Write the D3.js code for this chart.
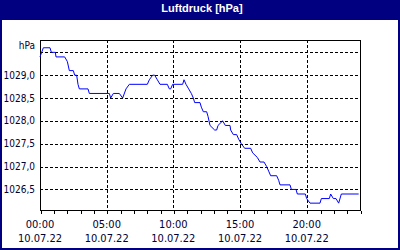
<!DOCTYPE html>
<html>
<head>
<meta charset="utf-8">
<script src="https://cdn.jsdelivr.net/npm/d3@7"></script>
<style>
  body { margin: 0; background: #fff; }
  svg { display: block; }
</style>
</head>
<body>
<script>
// Chart data: air pressure readings on 10.07.22
var title = "Luftdruck [hPa]";
var unitLabel = "hPa";
var day = "2022-07-10";
var times = ["00:00", "00:15", "00:45", "00:51", "01:09", "01:12", "01:51", "02:03", "02:12", "02:30",
  "02:36", "02:45", "02:51", "02:57", "03:36", "03:42", "05:12", "05:18", "05:30", "05:57",
  "06:12", "06:27", "06:42", "08:03", "08:12", "08:27", "08:36", "08:48", "09:00", "09:33",
  "09:42", "09:48", "09:57", "10:42", "10:48", "10:57", "11:09", "11:21", "11:30", "11:36",
  "12:00", "12:06", "12:15", "12:30", "12:36", "12:45", "13:06", "13:15", "13:21", "13:42",
  "13:54", "14:15", "14:18", "14:30", "14:45", "14:54", "15:06", "15:21", "15:48", "15:57",
  "16:18", "16:30", "16:48", "17:00", "17:09", "17:18", "17:45", "17:54", "18:00", "18:45",
  "18:51", "19:12", "19:18", "19:54", "20:00", "20:15", "21:00", "21:06", "21:42", "21:48",
  "22:00", "22:12", "22:24", "22:36", "23:54"];
var pressure = [1029.4, 1029.6, 1029.6, 1029.5, 1029.5, 1029.4, 1029.4, 1029.3, 1029.1, 1029.1,
  1029.0, 1029.0, 1028.8, 1028.7, 1028.7, 1028.6, 1028.6, 1028.5, 1028.6, 1028.6,
  1028.5, 1028.7, 1028.8, 1028.8, 1028.9, 1029.0, 1029.0, 1028.9, 1028.8, 1028.8,
  1028.7, 1028.7, 1028.8, 1028.8, 1028.9, 1028.8, 1028.7, 1028.6, 1028.5, 1028.4,
  1028.4, 1028.3, 1028.2, 1028.2, 1028.1, 1027.9, 1027.8, 1027.8, 1027.9, 1028.0,
  1027.9, 1027.9, 1027.8, 1027.7, 1027.7, 1027.6, 1027.5, 1027.4, 1027.4, 1027.3,
  1027.2, 1027.1, 1027.1, 1027.0, 1026.9, 1026.8, 1026.8, 1026.7, 1026.6, 1026.6,
  1026.5, 1026.5, 1026.4, 1026.4, 1026.3, 1026.2, 1026.2, 1026.3, 1026.3, 1026.4,
  1026.3, 1026.3, 1026.2, 1026.4, 1026.4];
var yTicks = [1026.5, 1027.0, 1027.5, 1028.0, 1028.5, 1029.0, 1029.5];
var yLabelTicks = [1026.5, 1027.0, 1027.5, 1028.0, 1028.5, 1029.0];
var xTickLabels = ["00:00", "05:00", "10:00", "15:00", "20:00"];

// SVG area
var svgWidth = 400;
var svgHeight = 250;

// plot box inside the frame
var plot = { left: 40, top: 40, right: 360, bottom: 210 };

var labelColor = "#000033";
var narrowFont = "'Liberation Sans Narrow', 'DejaVu Sans Condensed', 'Liberation Sans', sans-serif";

var parseTime = d3.timeParse("%Y-%m-%d %H:%M");
var data = times.map(function (t, i) {
  return { date: parseTime(day + " " + t), value: pressure[i] };
});

var svg = d3.select("body")
  .append("svg")
  .attr("width", svgWidth)
  .attr("height", svgHeight);

// navy frame + title bar
svg.append("rect")
  .attr("width", svgWidth)
  .attr("height", svgHeight)
  .attr("fill", "#000080");

svg.append("rect")
  .attr("x", 2)
  .attr("y", 20)
  .attr("width", 396)
  .attr("height", 228)
  .attr("fill", "#ffffff");

svg.append("text")
  .attr("x", 202)
  .attr("y", 12)
  .attr("text-anchor", "middle")
  .attr("font-family", "'Liberation Sans', Arial, sans-serif")
  .attr("font-weight", "bold")
  .attr("font-size", "11px")
  .attr("fill", "#ffffff")
  .text(title);

// scales
var dayStart = parseTime(day + " 00:00");
var dayEnd = d3.timeDay.offset(dayStart, 1);

var xScale = d3.scaleTime()
  .domain([dayStart, dayEnd])
  .range([plot.left, plot.right]);

var yScale = d3.scaleLinear()
  .domain([1026.05, 1029.77])
  .range([plot.bottom, plot.top]);

var snap = function (v) { return Math.round(v) + 0.5; };

// horizontal dashed grid
svg.append("g")
  .selectAll("line")
  .data(yTicks)
  .enter()
  .append("line")
  .attr("x1", plot.left)
  .attr("x2", plot.right)
  .attr("y1", d => snap(yScale(d)))
  .attr("y2", d => snap(yScale(d)))
  .attr("stroke", "#000")
  .attr("stroke-dasharray", "3,2")
  .attr("shape-rendering", "crispEdges");

// vertical dashed grid every 5 hours
var xGrid = xTickLabels.slice(1).map(t => parseTime(day + " " + t));
svg.append("g")
  .selectAll("line")
  .data(xGrid)
  .enter()
  .append("line")
  .attr("x1", d => snap(xScale(d)))
  .attr("x2", d => snap(xScale(d)))
  .attr("y1", plot.top)
  .attr("y2", plot.bottom)
  .attr("stroke", "#000")
  .attr("stroke-dasharray", "3,2")
  .attr("shape-rendering", "crispEdges");

// bottom axis with hourly ticks (labels drawn separately, two lines)
var bottomAxis = d3.axisBottom(xScale)
  .ticks(d3.timeHour.every(1))
  .tickSize(3)
  .tickSizeOuter(0)
  .tickFormat("");

var xAxisGroup = svg.append("g")
  .attr("transform", `translate(0.5, ${plot.bottom + 0.5})`)
  .call(bottomAxis);
xAxisGroup.select(".domain").remove();
xAxisGroup.selectAll("line")
  .attr("stroke", "#000")
  .attr("shape-rendering", "crispEdges");

// plot box border
svg.append("rect")
  .attr("x", plot.left + 0.5)
  .attr("y", plot.top + 0.5)
  .attr("width", plot.right - plot.left)
  .attr("height", plot.bottom - plot.top)
  .attr("fill", "none")
  .attr("stroke", "#000")
  .attr("shape-rendering", "crispEdges");

// y labels
svg.append("g")
  .selectAll("text")
  .data(yLabelTicks)
  .enter()
  .append("text")
  .attr("x", 35)
  .attr("y", d => yScale(d) + 3.5)
  .attr("text-anchor", "end")
  .attr("font-family", narrowFont)
  .attr("font-size", "10px")
  .attr("fill", labelColor)
  .text(d => d3.format(".1f")(d).replace(".", ","));

svg.append("text")
  .attr("x", 35)
  .attr("y", 48.5)
  .attr("text-anchor", "end")
  .attr("font-family", narrowFont)
  .attr("font-size", "10px")
  .attr("fill", labelColor)
  .text(unitLabel);

// x labels: time and date
var xLabels = svg.append("g")
  .selectAll("g")
  .data(xTickLabels.map(t => parseTime(day + " " + t)))
  .enter()
  .append("g")
  .attr("transform", d => `translate(${xScale(d)}, 0)`);

xLabels.append("text")
  .attr("y", 228)
  .attr("text-anchor", "middle")
  .attr("font-family", narrowFont)
  .attr("font-size", "11px")
  .attr("fill", labelColor)
  .text(d3.timeFormat("%H:%M"));

xLabels.append("text")
  .attr("y", 242)
  .attr("text-anchor", "middle")
  .attr("font-family", narrowFont)
  .attr("font-size", "11px")
  .attr("fill", labelColor)
  .text(d3.timeFormat("%d.%m.%y"));

// pressure line
var drawLine = d3.line()
  .x(d => xScale(d.date))
  .y(d => yScale(d.value));

svg.append("path")
  .attr("d", drawLine(data))
  .attr("fill", "none")
  .attr("stroke", "#0000ff")
  .attr("stroke-width", 1);
</script>
</body>
</html>
